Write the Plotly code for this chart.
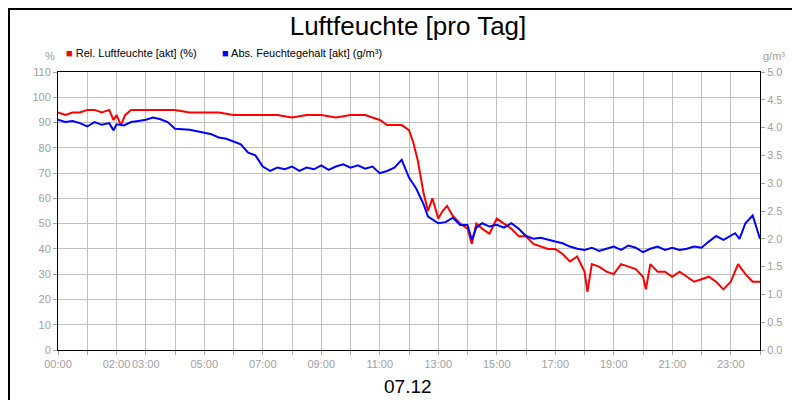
import plotly.graph_objects as go

# hours of day and readings
rel_hours = [0, 0.25, 0.5, 0.75, 1, 1.25, 1.5, 1.75, 1.9, 2.0, 2.15, 2.3, 2.5, 3, 3.5, 4, 4.5, 5, 5.5, 6, 6.5,
             7, 7.5, 8, 8.5, 9, 9.5, 10, 10.5, 11, 11.25, 11.5, 11.75, 12, 12.15, 12.3, 12.5, 12.65, 12.8,
             13, 13.15, 13.3, 13.5, 13.75, 14, 14.15, 14.3, 14.5, 14.75, 15, 15.25, 15.5, 15.75, 16,
             16.25, 16.5, 16.75, 17, 17.25, 17.5, 17.75, 18, 18.1, 18.25, 18.5, 18.75, 19, 19.25, 19.5,
             19.75, 20, 20.1, 20.25, 20.5, 20.75, 21, 21.25, 21.5, 21.75, 22, 22.25, 22.5, 22.75, 23,
             23.25, 23.5, 23.75, 24]
rel_values = [94, 93, 94, 94, 95, 95, 94, 95, 91, 93, 89, 93, 95, 95, 95, 95, 94, 94, 94, 93, 93,
              93, 93, 92, 93, 93, 92, 93, 93, 91, 89, 89, 89, 87, 82, 75, 62, 55, 60,
              52, 55, 57, 53, 50, 48, 42, 50, 48, 46, 52, 50, 48, 45, 45,
              42, 41, 40, 40, 38, 35, 37, 31, 23, 34, 33, 31, 30, 34, 33,
              32, 29, 24, 34, 31, 31, 29, 31, 29, 27, 28, 29, 27, 24, 27,
              34, 30, 27, 27]

abs_hours = [0, 0.25, 0.5, 0.75, 1, 1.25, 1.5, 1.75, 1.9, 2.0, 2.25, 2.5, 2.75, 3, 3.25, 3.5, 3.75, 4, 4.5,
             5, 5.25, 5.5, 5.75, 6, 6.25, 6.5, 6.75, 7, 7.25, 7.5, 7.75, 8, 8.25, 8.5, 8.75, 9, 9.25,
             9.5, 9.75, 10, 10.25, 10.5, 10.75, 11, 11.25, 11.5, 11.75, 12, 12.25, 12.5, 12.65, 12.8,
             13, 13.25, 13.5, 13.75, 14, 14.15, 14.3, 14.5, 14.75, 15, 15.25, 15.5, 15.75, 16, 16.25,
             16.5, 16.75, 17, 17.25, 17.5, 17.75, 18, 18.25, 18.5, 18.75, 19, 19.25, 19.5, 19.75, 20,
             20.25, 20.5, 20.75, 21, 21.25, 21.5, 21.75, 22, 22.25, 22.5, 22.75, 23, 23.15, 23.3,
             23.5, 23.75, 24]
abs_values = [4.14, 4.10, 4.12, 4.08, 4.02, 4.10, 4.05, 4.08, 3.95, 4.06, 4.04, 4.10, 4.12, 4.14, 4.18, 4.15,
              4.10, 3.98, 3.96, 3.90, 3.88, 3.82, 3.80, 3.75, 3.70, 3.55, 3.50, 3.30, 3.22, 3.28, 3.25, 3.30,
              3.22, 3.28, 3.25, 3.32, 3.24, 3.30, 3.34, 3.28, 3.32, 3.26, 3.30, 3.18, 3.22, 3.28, 3.42, 3.10,
              2.90, 2.62, 2.40, 2.35, 2.28, 2.30, 2.38, 2.25, 2.25, 1.98, 2.20, 2.28, 2.22, 2.25, 2.20, 2.28,
              2.18, 2.05, 2.00, 2.02, 1.98, 1.95, 1.92, 1.86, 1.82, 1.80, 1.84, 1.78, 1.82, 1.86, 1.80, 1.88,
              1.84, 1.76, 1.82, 1.86, 1.80, 1.84, 1.80, 1.82, 1.86, 1.84, 1.95, 2.05, 1.98, 2.05, 2.10, 2.00,
              2.28, 2.42, 2.00, 2.05, 2.00]

hour_ticks = list(range(25))
hour_labels = ["00:00", "", "02:00", "03:00", "", "05:00", "", "07:00", "", "09:00", "", "11:00", "",
               "13:00", "", "15:00", "", "17:00", "", "19:00", "", "21:00", "", "23:00", ""]

grey = "#a0a0a0"
grid = "#c0c0c0"
L, R, T, B = 50, 48, 64, 58
pw, ph = 800 - L - R, 400 - T - B

fig = go.Figure()
fig.add_trace(go.Scatter(x=rel_hours, y=rel_values, mode="lines", line=dict(color="#ff0000", width=2),
                         name="Rel. Luftfeuchte [akt] (%)"))
fig.add_trace(go.Scatter(x=abs_hours, y=abs_values, mode="lines", line=dict(color="#0000ff", width=2),
                         name="Abs. Feuchtegehalt [akt] (g/m³)", yaxis="y2"))

axis_common = dict(ticks="outside", ticklen=4, tickcolor=grey, showline=True, linecolor="black",
                   zeroline=False, automargin=False, tickangle=0)
fig.update_layout(
    width=800, height=400, showlegend=False,
    margin=dict(l=L, r=R, t=T, b=B, autoexpand=False),
    paper_bgcolor="white", plot_bgcolor="white",
    font=dict(family="Liberation Sans, Arial", size=11, color=grey),
    xaxis=dict(range=[0, 24], tickvals=hour_ticks, ticktext=hour_labels, showgrid=True, gridcolor=grid,
               mirror=True, **axis_common),
    yaxis=dict(range=[0, 110], dtick=10, showgrid=True, gridcolor=grid, **axis_common),
    yaxis2=dict(range=[0, 5], dtick=0.5, tickformat=".1f", overlaying="y", side="right", showgrid=False,
                **axis_common),
    title=dict(text="Luftfeuchte [pro Tag]", x=0.5, y=0.955, xanchor="center", yanchor="middle",
               font=dict(size=26, color="black")),
)

def px(x):
    return (x - L) / pw

def py(y):
    return (400 - B - y) / ph

fig.add_shape(type="rect", xref="paper", yref="paper", x0=px(1), x1=px(799), y0=py(399), y1=py(1),
              line=dict(color="black", width=2))

labels = [
    ("<span style='color:#ff0000'>■</span> Rel. Luftfeuchte [akt] (%)", 56, 45, "left", "black", 11),
    ("<span style='color:#0000ff'>■</span> Abs. Feuchtegehalt [akt] (g/m³)", 212, 45, "left", "black", 11),
    ("%", 42, 48, "center", grey, 11),
    ("g/m³", 766, 48, "center", grey, 11),
    ("07.12", 400, 378, "center", "black", 19),
]
for text, x, y, anc, col, size in labels:
    fig.add_annotation(text=text, xref="paper", yref="paper", x=px(x), y=py(y), xanchor=anc,
                       yanchor="middle", showarrow=False, font=dict(color=col, size=size))

fig.write_html("out.html")
